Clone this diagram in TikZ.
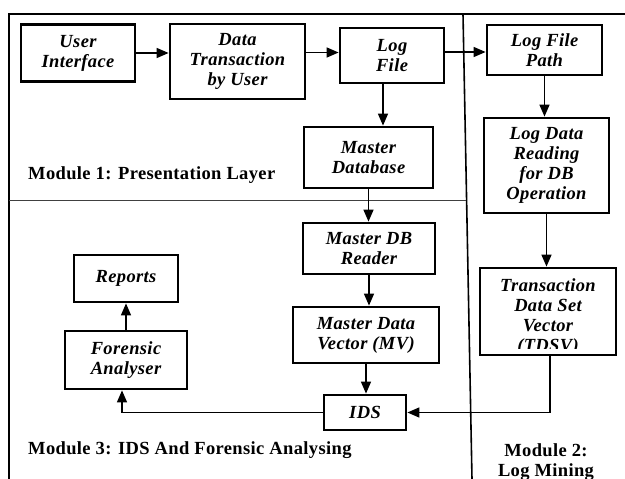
\documentclass[tikz,border=0pt]{standalone}
\usepackage{fontspec}
\setmainfont{Liberation Serif}[LetterSpace=2]
\usetikzlibrary{arrows.meta,calc}
\begin{document}
\begin{tikzpicture}[x=1pt,y=-1pt,
 box/.style={draw,line width=2.8pt,align=center,inner sep=0pt,font=\fontsize{18.5}{20}\selectfont\bfseries\itshape},
 bx/.style 2 args={box,minimum width=#1pt,minimum height=#2pt},
 arr/.style={line width=1.5pt,-{Triangle[length=12pt,width=10pt]}},
 modlabel/.style={font=\fontsize{18.5}{20}\selectfont\bfseries,inner sep=0pt,align=center}]
\useasboundingbox (0,0) rectangle (625,479);
% frame and dividers
\draw[line width=2pt] (625,14) -- (9,14) -- (9,479);
\draw[line width=1.6pt] (463,14) -- (472,479);
\draw[line width=1pt, black!75] (9,200) -- (466,200);
% boxes
\node[bx={114}{57}] (ui) at (78,53) {User\\Interface};
\node[bx={135}{75}] (dt) at (237.5,61.5) {Data\\Transaction\\by User};
\node[bx={104}{55}] (lf) at (392,55.5) {Log\\File};
\node[bx={129}{61}] (md) at (368.5,157.5) {Master\\Database};
\node[bx={115}{50}] (lfp) at (544.5,50) {Log File\\Path};
\node[bx={125}{95}] (ldr) at (546.5,165.5) {Log Data\\Reading\\for DB\\Operation};
\node[bx={132}{51}] (mdr) at (369,248.5) {Master DB\\Reader};
\node[bx={146}{56}] (mv) at (366,335) {Master Data\\Vector (MV)};
\node[bx={82}{35}] (ids) at (365,412.5) {IDS};
\node[bx={136}{87}] (tdsv) at (548,311.5) {};
\node[bx={104}{47}] (rep) at (126,278.5) {Reports};
\node[bx={122}{58}] (fa) at (126,360) {Forensic\\Analyser};
\begin{scope}
\clip ([xshift=2.8pt,yshift=-2.8pt]tdsv.north west) rectangle ([xshift=-2.8pt,yshift=7.5pt]tdsv.south east);
\node[box,draw=none] (tdsvtext) at (548,317) {Transaction\\Data Set\\Vector\\(TDSV)};
\end{scope}
% connectors
\draw[arr] (ui.east) -- (ui.east -| dt.west);
\coordinate (a) at ([yshift=3pt]lf.west);
\draw[arr] (a -| dt.east) -- (a);
\coordinate (b) at ([yshift=-2pt]lfp.west);
\draw[arr] (b -| lf.east) -- (b);
\coordinate (c) at ([xshift=-9pt]lf.south);
\draw[arr] (c) -- (c |- md.north);
\draw[arr] (md.south) -- (md.south |- mdr.north);
\draw[arr] (mdr.south) -- (mdr.south |- mv.north);
\draw[arr] (mv.south) -- (mv.south |- ids.north);
\draw[arr] (lfp.south) -- (lfp.south |- ldr.north);
\draw[arr] (ldr.south) -- (ldr.south |- tdsv.north);
\coordinate (d) at ([xshift=2pt]tdsv.south);
\draw[arr] (d) |- (ids.east);
\coordinate (e) at ([xshift=-4pt]fa.south);
\draw[arr] (ids.west) -| (e);
\draw[arr] (fa.north) -- (rep.south);
% module labels
\node[modlabel,anchor=west] (m1) at (28,175) {Module 1: Presentation Layer};
\node[modlabel,anchor=west] (m3) at (28,450) {Module 3: IDS And Forensic Analysing};
\node[modlabel] (m2) at (546,462) {Module 2:\\Log Mining};
\end{tikzpicture}
\end{document}
